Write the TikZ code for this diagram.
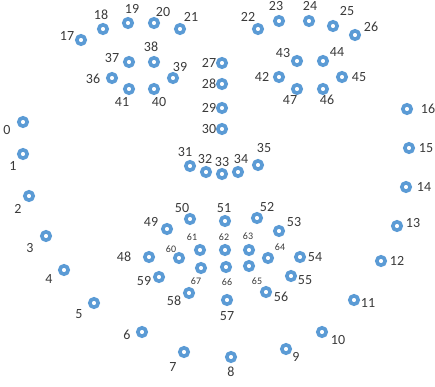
\documentclass[tikz,border=0pt]{standalone}
\usepackage{fontspec}
\setmainfont{Carlito}
\definecolor{ringblue}{HTML}{5B9BD5}
\definecolor{numgray}{HTML}{3A3A3A}

\begin{document}
\begin{tikzpicture}[
  x=1pt, y=-1pt,
  pt/.style={circle, draw=ringblue, line width=3.6pt, minimum size=8.4pt, inner sep=0pt, fill=white},
  num/.style={font=\fontsize{14}{14}\selectfont, text=numgray, inner sep=0pt},
  small/.style={font=\fontsize{10}{10}\selectfont, text=numgray, inner sep=0pt}
]
\useasboundingbox (0,0) rectangle (435,386);

% jaw line
\node[pt] (p0) at (23,122) {};
\node[pt] (p1) at (23,154) {};
\node[pt] (p2) at (29,196) {};
\node[pt] (p3) at (46,236) {};
\node[pt] (p4) at (64,270) {};
\node[pt] (p5) at (94,303) {};
\node[pt] (p6) at (142,332) {};
\node[pt] (p7) at (184,352) {};
\node[pt] (p8) at (231,357) {};
\node[pt] (p9) at (286,349) {};
\node[pt] (p10) at (322,332) {};
\node[pt] (p11) at (354,300) {};
\node[pt] (p12) at (381,261) {};
\node[pt] (p13) at (397,226) {};
\node[pt] (p14) at (406,187) {};
\node[pt] (p15) at (409,148) {};
\node[pt] (p16) at (407,109) {};
\node[num] (n0) at (7,130) {0};
\node[num] (n1) at (13,166) {1};
\node[num] (n2) at (18,209) {2};
\node[num] (n3) at (30,248) {3};
\node[num] (n4) at (49,279) {4};
\node[num] (n5) at (79,314) {5};
\node[num] (n6) at (127,335) {6};
\node[num] (n7) at (173,367) {7};
\node[num] (n8) at (231,372) {8};
\node[num] (n9) at (296,357) {9};
\node[num] (n10) at (338,340) {10};
\node[num] (n11) at (368,303) {11};
\node[num] (n12) at (397,261) {12};
\node[num] (n13) at (413,223) {13};
\node[num] (n14) at (424,187) {14};
\node[num] (n15) at (426,148) {15};
\node[num] (n16) at (428,109) {16};

% brows
\node[pt] (p17) at (81,40) {};
\node[pt] (p18) at (103,29) {};
\node[pt] (p19) at (128,23) {};
\node[pt] (p20) at (154,23) {};
\node[pt] (p21) at (180,29) {};
\node[pt] (p22) at (258,29) {};
\node[pt] (p23) at (279,21) {};
\node[pt] (p24) at (309,21) {};
\node[pt] (p25) at (333,26) {};
\node[pt] (p26) at (355,35) {};
\node[num] (n17) at (67,36) {17};
\node[num] (n18) at (101,15) {18};
\node[num] (n19) at (132,9) {19};
\node[num] (n20) at (163,12) {20};
\node[num] (n21) at (191,17) {21};
\node[num] (n22) at (248,17) {22};
\node[num] (n23) at (276,6) {23};
\node[num] (n24) at (310,6) {24};
\node[num] (n25) at (347,11) {25};
\node[num] (n26) at (371,27) {26};

% nose
\node[pt] (p27) at (222,63) {};
\node[pt] (p28) at (222,84) {};
\node[pt] (p29) at (222,108) {};
\node[pt] (p30) at (222,129) {};
\node[pt] (p31) at (190,166) {};
\node[pt] (p32) at (206,172) {};
\node[pt] (p33) at (222,174) {};
\node[pt] (p34) at (238,172) {};
\node[pt] (p35) at (258,165) {};
\node[num] (n27) at (209,63) {27};
\node[num] (n28) at (209,84) {28};
\node[num] (n29) at (209,108) {29};
\node[num] (n30) at (209,129) {30};
\node[num] (n31) at (185,152) {31};
\node[num] (n32) at (205,159) {32};
\node[num] (n33) at (222,162) {33};
\node[num] (n34) at (241,159) {34};
\node[num] (n35) at (264,148) {35};

% eyes
\node[pt] (p36) at (112,78) {};
\node[pt] (p37) at (129,62) {};
\node[pt] (p38) at (154,62) {};
\node[pt] (p39) at (173,78) {};
\node[pt] (p40) at (154,89) {};
\node[pt] (p41) at (129,89) {};
\node[pt] (p42) at (279,77) {};
\node[pt] (p43) at (297,61) {};
\node[pt] (p44) at (323,61) {};
\node[pt] (p45) at (342,77) {};
\node[pt] (p46) at (323,89) {};
\node[pt] (p47) at (297,89) {};
\node[num] (n36) at (93,79) {36};
\node[num] (n37) at (112,58) {37};
\node[num] (n38) at (151,47) {38};
\node[num] (n39) at (180,67) {39};
\node[num] (n40) at (159,102) {40};
\node[num] (n41) at (122,102) {41};
\node[num] (n42) at (262,77) {42};
\node[num] (n43) at (283,53) {43};
\node[num] (n44) at (337,52) {44};
\node[num] (n45) at (359,77) {45};
\node[num] (n46) at (327,100) {46};
\node[num] (n47) at (290,100) {47};

% outer lips
\node[pt] (p48) at (149,257) {};
\node[pt] (p49) at (167,229) {};
\node[pt] (p50) at (190,219) {};
\node[pt] (p51) at (225,221) {};
\node[pt] (p52) at (257,218) {};
\node[pt] (p53) at (279,231) {};
\node[pt] (p54) at (300,257) {};
\node[pt] (p55) at (291,276) {};
\node[pt] (p56) at (266,292) {};
\node[pt] (p57) at (227,300) {};
\node[pt] (p58) at (189,293) {};
\node[pt] (p59) at (159,277) {};
\node[num] (n48) at (124,257) {48};
\node[num] (n49) at (151,222) {49};
\node[num] (n50) at (182,208) {50};
\node[num] (n51) at (224,208) {51};
\node[num] (n52) at (267,207) {52};
\node[num] (n53) at (294,222) {53};
\node[num] (n54) at (315,257) {54};
\node[num] (n55) at (305,280) {55};
\node[num] (n56) at (281,297) {56};
\node[num] (n57) at (227,316) {57};
\node[num] (n58) at (174,301) {58};
\node[num] (n59) at (144,281) {59};

% inner lips, smaller numbers
\node[pt] (p60) at (179,258) {};
\node[pt] (p61) at (200,250) {};
\node[pt] (p62) at (225,250) {};
\node[pt] (p63) at (249,250) {};
\node[pt] (p64) at (268,258) {};
\node[pt] (p65) at (249,266) {};
\node[pt] (p66) at (226,267) {};
\node[pt] (p67) at (201,268) {};
\node[small] (n60) at (171,249) {60};
\node[small] (n61) at (192,237) {61};
\node[small] (n62) at (224,237) {62};
\node[small] (n63) at (248,236) {63};
\node[small] (n64) at (280,247) {64};
\node[small] (n65) at (257,281) {65};
\node[small] (n66) at (227,282) {66};
\node[small] (n67) at (196,281) {67};
\end{tikzpicture}
\end{document}
